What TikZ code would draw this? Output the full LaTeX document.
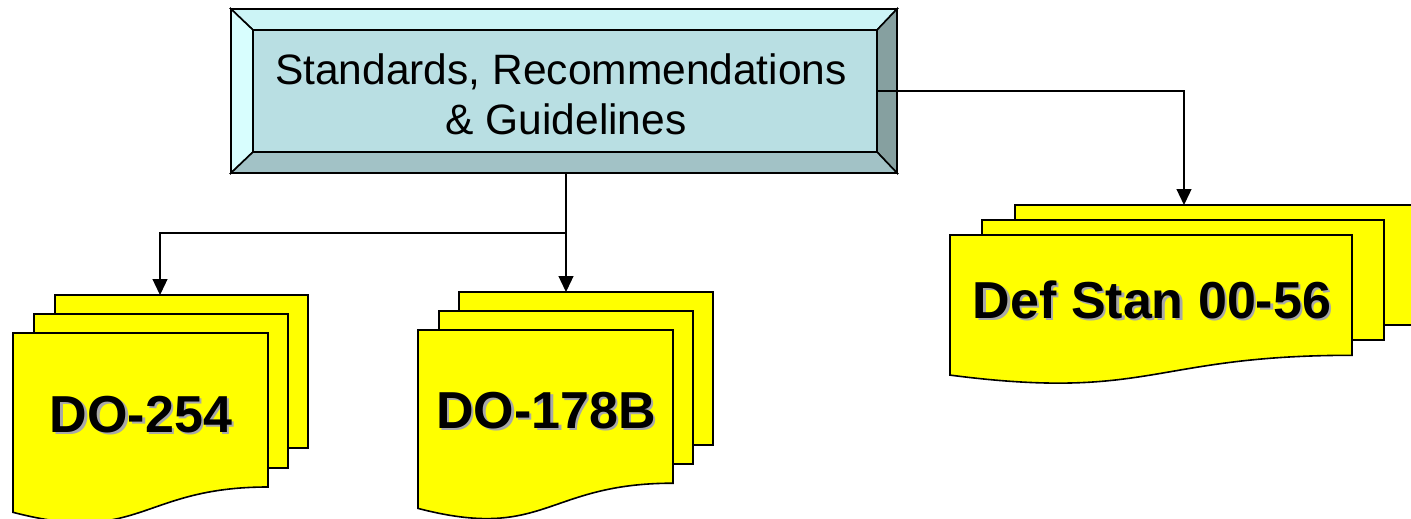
\documentclass[tikz,border=0pt]{standalone}
\usepackage{fontspec}
\setmainfont{Liberation Sans}
\usetikzlibrary{arrows.meta}

\definecolor{paperyellow}{HTML}{FFFF00}
\definecolor{faceteal}{HTML}{B9DFE3}
\definecolor{bevtop}{HTML}{CCF4F6}
\definecolor{bevleft}{HTML}{D8FEFE}
\definecolor{bevright}{HTML}{86A0A0}
\definecolor{bevbottom}{HTML}{A2C2C6}
\definecolor{shadowgray}{HTML}{A8A8A8}

\tikzset{
  outline/.style={draw=black, line width=1.6pt, line join=miter},
  bevel/.style={outline},
  page/.style={outline, fill=paperyellow, rectangle, inner sep=0pt},
  link/.style={draw=black, line width=1.3pt, -{Triangle[length=16pt, width=15pt]}},
  plainlink/.style={draw=black, line width=1.3pt},
  doctext/.style={font=\fontsize{52}{60}\selectfont\bfseries, anchor=base, inner sep=0pt},
  headtext/.style={font=\fontsize{42.5}{50}\selectfont, align=center, inner sep=0pt}
}

% label with a grey drop shadow
\newcommand\shadowlabel[3]{%
  \node[doctext, text=shadowgray, xshift=2.5pt, yshift=-2.5pt] at #2 {#3};
  \node[doctext] (#1) at #2 {#3};
}

\begin{document}
\begin{tikzpicture}[x=1pt, y=-1pt]
\useasboundingbox (0,0) rectangle (1411,519);
\clip (0,0) rectangle (1411,519);

% ---- bevelled header box ----
\node[rectangle, minimum width=666pt, minimum height=164pt, inner sep=0pt] (stdframe) at (564,91) {};
\filldraw[bevel, fill=bevtop]    (231,9) -- (897,9) -- (877,30) -- (253,30) -- cycle;
\filldraw[bevel, fill=bevleft]   (231,9) -- (253,30) -- (253,152) -- (231,173) -- cycle;
\filldraw[bevel, fill=bevright]  (897,9) -- (897,173) -- (877,152) -- (877,30) -- cycle;
\filldraw[bevel, fill=bevbottom] (231,173) -- (897,173) -- (877,152) -- (253,152) -- cycle;
\node[outline, fill=faceteal, rectangle, minimum width=624pt, minimum height=122pt, inner sep=0pt] (std) at (565,91) {};
\node[headtext] (stdtext) at (561,94) {Standards, Recommendations\\ \hspace*{10pt}\& Guidelines};

% ---- DO-254 document stack ----
\node[page, minimum width=253pt, minimum height=153pt] (d254c) at (181.5,371.5) {};
\node[page, minimum width=254pt, minimum height=154pt] (d254b) at (161,391) {};
\filldraw[page] (13,333) -- (268,333) -- (268,487)
  .. controls (140.5,487) and (140.5,545.7) .. (13,512.3) -- cycle;
\shadowlabel{t254}{(141,432)}{DO-254}

% ---- DO-178B document stack ----
\node[page, minimum width=254pt, minimum height=153pt] (d178c) at (586,368.5) {};
\node[page, minimum width=254pt, minimum height=153pt] (d178b) at (566,387.5) {};
\filldraw[page] (418,330) -- (673,330) -- (673,483.2)
  .. controls (545.5,483.2) and (545.5,541.6) .. (418,508.4) -- cycle;
\shadowlabel{t178}{(546,428)}{DO-178B}

% ---- Def Stan 00-56 document stack ----
\node[page, minimum width=402pt, minimum height=120pt] (dDefc) at (1216,265) {};
\node[page, minimum width=402pt, minimum height=120pt] (dDefb) at (1183,280) {};
\filldraw[page] (950,235) -- (1352,235) -- (1352,355.3)
  .. controls (1151,355.3) and (1151,401.2) .. (950,375.1) -- cycle;
\shadowlabel{tDef}{(1152,318)}{Def Stan 00-56}

% ---- connectors ----
\coordinate (a254) at (160,295);
\coordinate (a178) at (566,292);
\coordinate (aDef) at (1184,205);
\coordinate (junc) at (566,233);
\draw[plainlink] (stdframe.south -| junc) -- (junc);
\draw[link] (junc) -- (a178);
\draw[link] (junc) -| (a254);
\draw[link] (std.east) -| (aDef);
\end{tikzpicture}
\end{document}
